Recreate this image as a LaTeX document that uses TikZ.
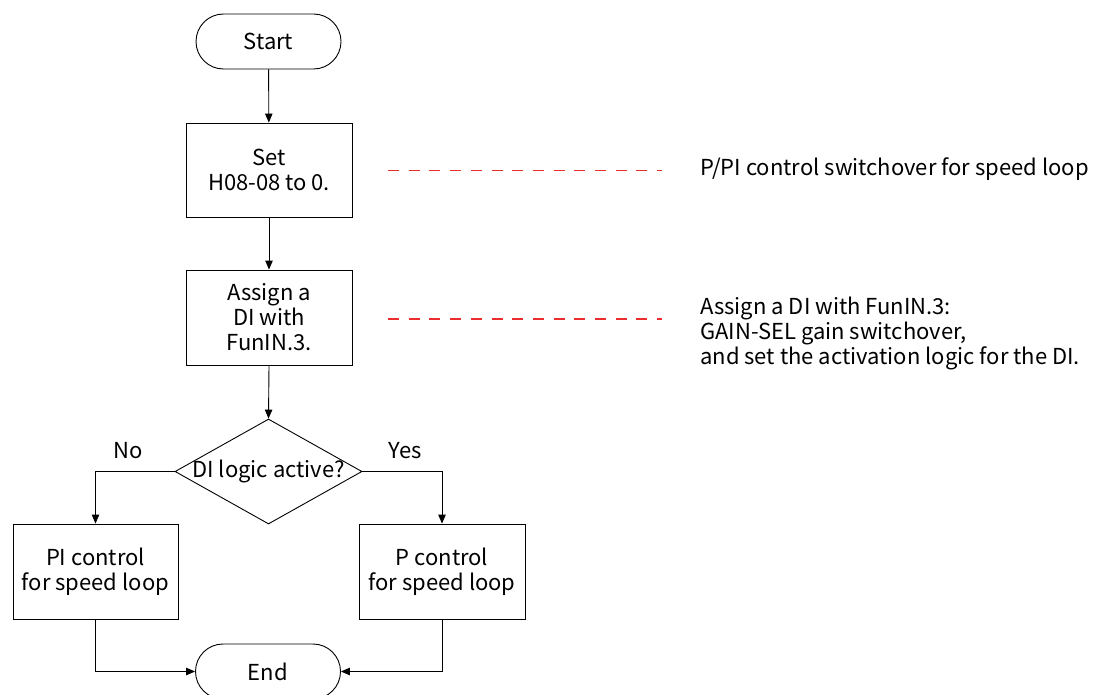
\documentclass[tikz,border=0pt]{standalone}
\usepackage{fontspec}
\setmainfont{Noto Sans CJK SC}
\usetikzlibrary{positioning, shapes.geometric, shapes.misc, arrows.meta}
\definecolor{notered}{RGB}{235,45,45}

\begin{document}
\begin{tikzpicture}[x=1pt, y=-1pt,
    font=\fontsize{22}{25}\selectfont,
    every node/.style={align=center},
    terminal/.style={draw, line width=0.9pt, rounded rectangle, minimum width=145pt, minimum height=55pt, inner sep=0pt},
    process/.style={draw, line width=0.9pt, rectangle, minimum width=166pt, minimum height=95pt, inner sep=0pt},
    decision/.style={draw, line width=0.9pt, diamond, minimum width=187pt, minimum height=105pt, inner sep=0pt},
    flow/.style={line width=0.9pt, -{Triangle[length=9pt, width=7.5pt]}},
    note/.style={notered, line width=1.3pt, dash pattern=on 11pt off 9.7pt}]
    \useasboundingbox (0,0) rectangle (1099,695);

    % Main flow
    \node[terminal] (start) at (268.5,41.5) {Start};
    \node[process, minimum height=94pt] (set) at (269,170) {Set\\H08-08 to 0.};
    \node[process] (assign) at (269,317.5) {Assign a\\DI with\\FunIN.3.};
    \node[decision] (dec) at (268.5,471.5) {};
    \node at (dec) {DI logic active?};
    \node[process, minimum width=165pt] (pi) at (95.5,571.5) {PI control\\for speed loop};
    \node[process] (p) at (442,571.5) {P control\\for speed loop};
    \node[terminal] (end) at (268,671.5) {End};

    \draw[flow] (start) -- (set);
    \draw[flow] (set) -- (assign);
    \draw[flow] (assign.south) -- (dec.north);
    \draw[flow] (dec.west) -| (pi.north);
    \draw[flow] (dec.east) -| (p.north);
    \draw[flow] (pi.south) |- (end.west);
    \draw[flow] (p.south) |- (end.east);
    \node at (128,451) {No};
    \node at (405,451) {Yes};

    % Notes
    \coordinate (n1a) at (388,170.5);
    \coordinate (n1b) at (662,170.5);
    \coordinate (n2a) at (388,319);
    \coordinate (n2b) at (662,319);
    \draw[note] (n1a) -- (n1b);
    \draw[note] (n2a) -- (n2b);
    \node[anchor=west, inner sep=0pt] (t1) at (700,169) {P/PI control switchover for speed loop};
    \node[anchor=west, align=left, inner sep=0pt] (t2) at (700,333) {Assign a DI with FunIN.3:\\GAIN-SEL gain switchover,\\and set the activation logic for the DI.};
\end{tikzpicture}
\end{document}
